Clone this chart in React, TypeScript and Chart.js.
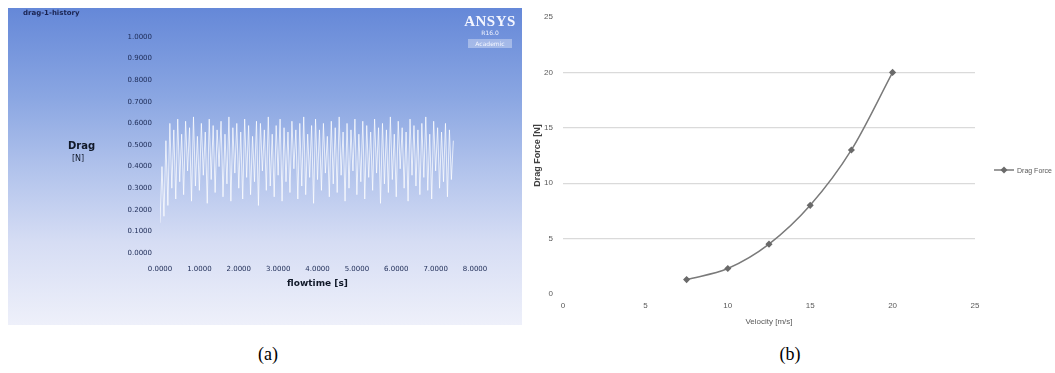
import React, { useEffect, useRef } from "react";
import { Chart, registerables } from "chart.js";

Chart.register(...registerables);

// ---------- Panel (a): ANSYS drag monitor ----------
const dragValues = [
  0.14, 0.40, 0.17, 0.52, 0.22, 0.60, 0.30, 0.57, 0.25, 0.62,
  0.33, 0.55, 0.27, 0.61, 0.38, 0.58, 0.24, 0.63, 0.31, 0.54,
  0.29, 0.60, 0.36, 0.56, 0.23, 0.62, 0.34, 0.59, 0.28, 0.57,
  0.40, 0.61, 0.26, 0.55, 0.32, 0.63, 0.24, 0.58, 0.37, 0.60,
  0.30, 0.56, 0.25, 0.62, 0.35, 0.59, 0.27, 0.54, 0.33, 0.61,
  0.22, 0.60, 0.38, 0.57, 0.29, 0.63, 0.31, 0.55, 0.26, 0.59,
  0.36, 0.62, 0.24, 0.58, 0.33, 0.56, 0.28, 0.61, 0.39, 0.57,
  0.25, 0.60, 0.31, 0.63, 0.27, 0.55, 0.35, 0.59, 0.23, 0.62,
  0.34, 0.57, 0.29, 0.60, 0.37, 0.54, 0.26, 0.61, 0.32, 0.58,
  0.28, 0.63, 0.36, 0.56, 0.24, 0.60, 0.30, 0.57, 0.38, 0.62,
  0.27, 0.55, 0.33, 0.61, 0.25, 0.59, 0.35, 0.56, 0.29, 0.62,
  0.37, 0.58, 0.23, 0.60, 0.32, 0.57, 0.28, 0.63, 0.34, 0.55,
  0.26, 0.61, 0.39, 0.58, 0.30, 0.56, 0.24, 0.62, 0.36, 0.59,
  0.31, 0.57, 0.27, 0.60, 0.35, 0.63, 0.29, 0.55, 0.25, 0.61,
  0.38, 0.58, 0.30, 0.56, 0.33, 0.60, 0.26, 0.57, 0.34, 0.52,
];
const sampleInterval = 0.05; // flow-time step between monitor samples [s]
const flowTimeTicks = [0, 1, 2, 3, 4, 5, 6, 7, 8];
const dragTicks = [0, 0.1, 0.2, 0.3, 0.4, 0.5, 0.6, 0.7, 0.8, 0.9, 1.0];

// ---------- Panel (b): drag vs velocity ----------
const velocityValues = [7.5, 10, 12.5, 15, 17.5, 20];
const dragForceValues = [1.3, 2.3, 4.5, 8.0, 13.0, 20.0];
const velocityTicks = [0, 5, 10, 15, 20, 25];
const forceTicks = [0, 5, 10, 15, 20, 25];

const ansysFont = "'DejaVu Sans', sans-serif";
const excelFont = "'Liberation Sans', Arial, sans-serif";

function PanelA() {
  const ref = useRef<HTMLCanvasElement | null>(null);
  useEffect(() => {
    if (!ref.current) return;
    const chart = new Chart(ref.current, {
      type: "line",
      data: {
        datasets: [
          {
            label: "Drag",
            data: dragValues.map((v, i) => ({ x: i * sampleInterval, y: v })),
            borderColor: "rgba(255,255,255,0.72)",
            borderWidth: 1,
            pointRadius: 0,
            tension: 0,
            fill: false,
          },
        ],
      },
      options: {
        responsive: false,
        animation: false,
        layout: { padding: { left: 0, right: 47, top: 29, bottom: 0 } },
        plugins: { legend: { display: false }, tooltip: { enabled: false } },
        scales: {
          x: {
            type: "linear",
            min: 0,
            max: 8,
            afterFit: (s: any) => {
              s.height = 72;
            },
            afterBuildTicks: (s: any) => {
              s.ticks = flowTimeTicks.map((v) => ({ value: v }));
            },
            grid: { display: false, drawTicks: false },
            border: { display: false },
            ticks: {
              padding: 12,
              color: "#1c2a55",
              font: { size: 7, family: ansysFont },
              maxRotation: 0,
              autoSkip: false,
              callback: (v: any) => Number(v).toFixed(4),
            },
            title: {
              display: true,
              text: "flowtime [s]",
              color: "#101828",
              font: { size: 9, family: ansysFont, weight: "bold" },
              padding: { top: 0, bottom: 36 },
            },
          },
          y: {
            type: "linear",
            min: 0,
            max: 1,
            afterFit: (s: any) => {
              s.width = 152;
            },
            afterBuildTicks: (s: any) => {
              s.ticks = dragTicks.map((v) => ({ value: v }));
            },
            grid: { display: false, drawTicks: false },
            border: { display: false },
            ticks: {
              padding: 8,
              color: "#1c2a55",
              font: { size: 7, family: ansysFont },
              autoSkip: false,
              callback: (v: any) => Number(v).toFixed(4),
            },
          },
        },
      },
    });
    return () => chart.destroy();
  }, []);
  return <canvas ref={ref} width={514} height={317} style={{ position: "absolute", left: 0, top: 0, width: 514, height: 317 }} />;
}

function PanelB() {
  const ref = useRef<HTMLCanvasElement | null>(null);
  useEffect(() => {
    if (!ref.current) return;
    const chart = new Chart(ref.current, {
      type: "line",
      data: {
        datasets: [
          {
            label: "Drag Force",
            data: velocityValues.map((v, i) => ({ x: v, y: dragForceValues[i] })),
            borderColor: "#7a7a7a",
            borderWidth: 1.5,
            pointStyle: "rectRot",
            pointRadius: 2.5,
            pointBackgroundColor: "#6a6a6a",
            pointBorderColor: "#6a6a6a",
            cubicInterpolationMode: "monotone",
            fill: false,
          },
        ],
      },
      options: {
        responsive: false,
        animation: false,
        layout: { padding: { left: 0, right: 80, top: 17, bottom: 0 } },
        plugins: { legend: { display: false }, tooltip: { enabled: false } },
        scales: {
          x: {
            type: "linear",
            min: 0,
            max: 25,
            afterFit: (s: any) => {
              s.height = 41;
            },
            afterBuildTicks: (s: any) => {
              s.ticks = velocityTicks.map((v) => ({ value: v }));
            },
            grid: { display: false, drawTicks: false },
            border: { display: false },
            ticks: {
              padding: 7,
              color: "#595959",
              font: { size: 8, family: excelFont },
              maxRotation: 0,
              autoSkip: false,
            },
            title: {
              display: true,
              text: "Velocity [m/s]",
              color: "#595959",
              font: { size: 8, family: excelFont },
              padding: { top: 0, bottom: 8 },
            },
          },
          y: {
            type: "linear",
            min: 0,
            max: 25,
            afterFit: (s: any) => {
              s.width = 35;
            },
            afterBuildTicks: (s: any) => {
              s.ticks = forceTicks.map((v) => ({ value: v }));
            },
            grid: {
              drawTicks: false,
              lineWidth: 1.2,
              color: (ctx: any) =>
                ctx.tick && (ctx.tick.value === 0 || ctx.tick.value === 25) ? "rgba(0,0,0,0)" : "#dadada",
            },
            border: { display: false },
            ticks: {
              padding: 10,
              color: "#595959",
              font: { size: 8, family: excelFont },
              autoSkip: false,
            },
            title: {
              display: true,
              text: "Drag Force [N]",
              color: "#404040",
              font: { size: 9, family: excelFont, weight: "bold" },
              padding: { top: 4, bottom: 0 },
            },
          },
        },
      },
    });
    return () => chart.destroy();
  }, []);
  return <canvas ref={ref} width={527} height={335} style={{ position: "absolute", left: 0, top: 0, width: 527, height: 335 }} />;
}

export default function App() {
  return (
    <div style={{ position: "absolute", left: 0, top: 0, width: 1055, height: 373, background: "#ffffff", overflow: "hidden" }}>
      <div
        style={{
          position: "absolute",
          left: 8,
          top: 8,
          width: 514,
          height: 317,
          background:
            "linear-gradient(to bottom, #6588d8 0%, #8aa6e2 28%, #b3c4ec 52%, #d6ddf4 74%, #eef0fa 100%)",
        }}
      >
        <PanelA />
        <div style={{ position: "absolute", left: 15, top: 1, fontFamily: ansysFont, fontSize: 7, fontWeight: "bold", color: "#1a2350" }}>
          drag-1-history
        </div>
        <div style={{ position: "absolute", left: 60, top: 131, fontFamily: ansysFont, color: "#101828", lineHeight: "13px" }}>
          <div style={{ fontSize: 10, fontWeight: "bold" }}>Drag</div>
          <div style={{ fontSize: 8, paddingLeft: 4 }}>[N]</div>
        </div>
        <div style={{ position: "absolute", left: 452, top: 5, width: 60, textAlign: "center", color: "#f4f6ff" }}>
          <div style={{ fontFamily: "'Liberation Serif', serif", fontWeight: "bold", fontSize: 15, lineHeight: "16px", letterSpacing: 0.5 }}>ANSYS</div>
          <div style={{ fontFamily: ansysFont, fontSize: 6, lineHeight: "8px" }}>R16.0</div>
          <div style={{ fontFamily: ansysFont, fontSize: 6, lineHeight: "9px", background: "rgba(255,255,255,0.35)", margin: "2px 8px 0 8px" }}>Academic</div>
        </div>
      </div>
      <div style={{ position: "absolute", left: 528, top: 0, width: 527, height: 335 }}>
        <PanelB />
        <div style={{ position: "absolute", left: 466, top: 166, display: "flex", alignItems: "center", fontFamily: excelFont, fontSize: 7, color: "#595959" }}>
          <svg width="20" height="8" style={{ marginRight: 3 }}>
            <line x1="0" y1="4" x2="20" y2="4" stroke="#7a7a7a" strokeWidth="1.5" />
            <rect x="7.5" y="1.5" width="5" height="5" fill="#6a6a6a" transform="rotate(45 10 4)" />
          </svg>
          <span>Drag Force</span>
        </div>
      </div>
      <div style={{ position: "absolute", left: 238, top: 344, width: 60, textAlign: "center", fontFamily: "'Liberation Serif', serif", fontSize: 18 }}>(a)</div>
      <div style={{ position: "absolute", left: 760, top: 344, width: 60, textAlign: "center", fontFamily: "'Liberation Serif', serif", fontSize: 18 }}>(b)</div>
    </div>
  );
}
